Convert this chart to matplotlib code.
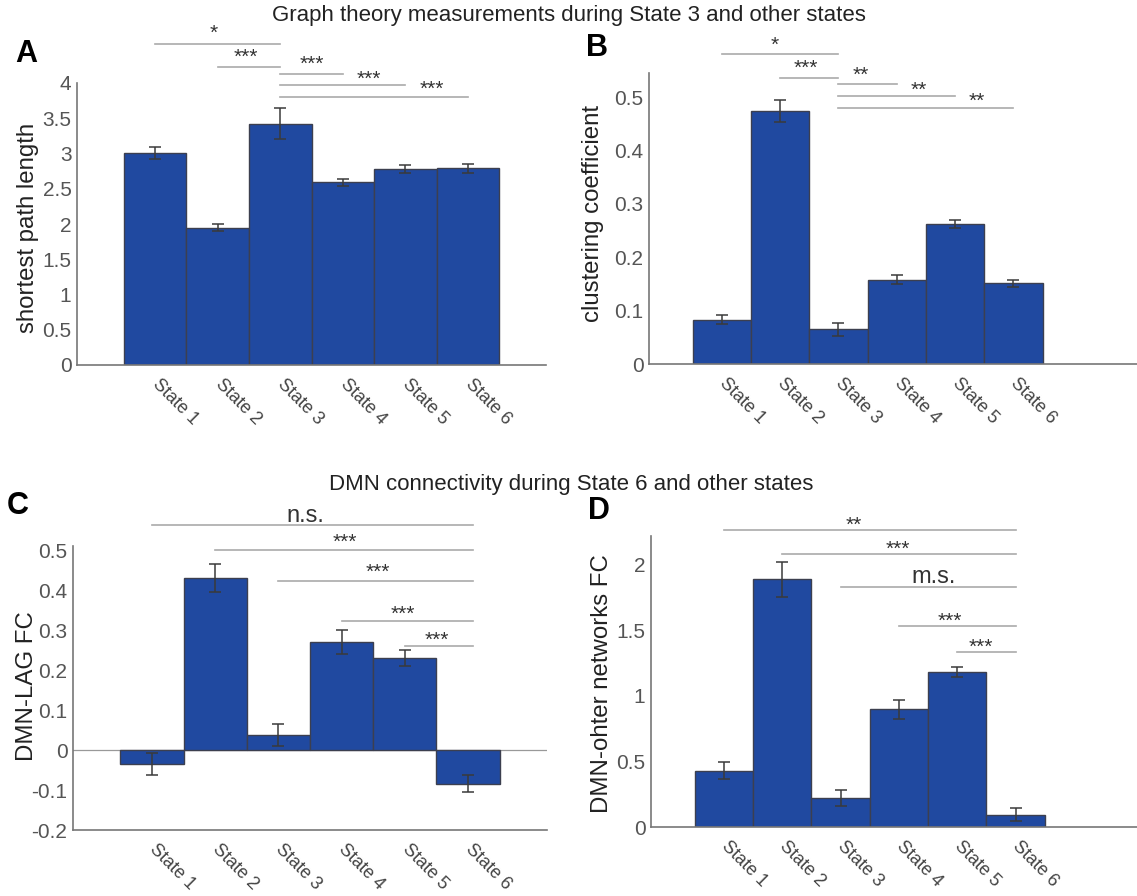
import matplotlib
matplotlib.use("Agg")
import matplotlib.pyplot as plt
import matplotlib.transforms as mtransforms
from matplotlib.ticker import FuncFormatter
import numpy as np

plt.rcParams["font.family"] = ["Liberation Sans", "DejaVu Sans"]

# Data
states = ["State 1", "State 2", "State 3", "State 4", "State 5", "State 6"]

path_len = [3.01, 1.95, 3.42, 2.59, 2.78, 2.79]
path_len_err = [0.085, 0.05, 0.22, 0.055, 0.055, 0.06]

clustering = [0.083, 0.474, 0.065, 0.158, 0.262, 0.151]
clustering_err = [0.009, 0.02, 0.012, 0.008, 0.008, 0.007]

dmn_lag = [-0.035, 0.43, 0.037, 0.27, 0.231, -0.084]
dmn_lag_err = [0.027, 0.036, 0.028, 0.03, 0.02, 0.021]

dmn_other = [0.43, 1.89, 0.222, 0.897, 1.183, 0.092]
dmn_other_err = [0.065, 0.135, 0.064, 0.07, 0.04, 0.05]

# significance brackets: (from state, to state, label, line height, text x, text y)
sig_a = [(1, 3, "*", 4.55, 1.93, 4.70),
         (2, 3, "***", 4.23, 2.45, 4.36),
         (3, 4, "***", 4.13, 3.50, 4.26),
         (3, 5, "***", 3.97, 4.41, 4.05),
         (3, 6, "***", 3.80, 5.43, 3.91)]
sig_b = [(1, 3, "*", 0.58, 1.90, 0.596),
         (2, 3, "***", 0.535, 2.44, 0.553),
         (3, 4, "**", 0.524, 3.38, 0.541),
         (3, 5, "**", 0.5025, 4.38, 0.513),
         (3, 6, "**", 0.479, 5.38, 0.492)]
sig_c = [(1, 6.08, "n.s.", 0.5625, 3.42, 0.585),
         (2, 6.08, "***", 0.50, 4.05, 0.518),
         (3, 6.08, "***", 0.4225, 4.57, 0.443),
         (4, 6.08, "***", 0.3225, 4.97, 0.339),
         (5, 6.08, "***", 0.259, 5.50, 0.274)]
sig_d = [(1, 6, "**", 2.263, 3.22, 2.30),
         (2, 6, "***", 2.08, 3.98, 2.12),
         (3, 6, "m.s.", 1.833, 4.60, 1.91),
         (4, 6, "***", 1.534, 4.87, 1.57),
         (5, 6, "***", 1.336, 5.41, 1.37)]

W, H = 1137, 896
fig = plt.figure(figsize=(W / 100, H / 100), dpi=100)


def rect(l, t, r, b):
    return [l / W, 1 - b / H, (r - l) / W, (b - t) / H]


def panel(pos, vals, errs, ylim, yticks, ylabel, label_xy, sigs, xmax, dx, zero_line=False):
    ax = fig.add_axes(pos)
    x = np.arange(1, len(vals) + 1)
    ax.bar(x, vals, width=1.0, color="#2049a0", edgecolor="#3c3f4f", linewidth=1.0, zorder=2)
    ax.errorbar(x, vals, yerr=errs, fmt="none", ecolor="#3a3a3a", elinewidth=1.1,
                capsize=4, capthick=1.1, zorder=3)
    if zero_line:
        ax.axhline(0, color="#999999", linewidth=0.9, zorder=1)
    ax.set_xlim(-0.25, xmax)
    ax.set_ylim(*ylim)
    ax.set_yticks(yticks)
    ax.yaxis.set_major_formatter(FuncFormatter(lambda v, p: "%g" % round(v, 3)))
    ax.set_xticks(x)
    ax.set_xticklabels(states, rotation=-45, ha="left", va="center", rotation_mode="anchor")
    shift = mtransforms.ScaledTranslation(dx / 100, 0, fig.dpi_scale_trans)
    for t in ax.get_xticklabels():
        t.set_transform(t.get_transform() + shift)
    ax.tick_params(axis="x", length=0, pad=12, labelsize=13, labelcolor="#444444")
    ax.tick_params(axis="y", length=0, pad=4, labelsize=15, labelcolor="#555555")
    for s in ["top", "right"]:
        ax.spines[s].set_visible(False)
    for s in ["left", "bottom"]:
        ax.spines[s].set_color("#777777")
        ax.spines[s].set_linewidth(1.2)
    fig.text(label_xy[0] / W, 1 - label_xy[1] / H, ylabel, rotation=90, ha="center",
             va="center", fontsize=17.3, color="#222222")
    for a, b, lab, h, tx, ty in sigs:
        ax.plot([a, b], [h, h], color="#aaaaaa", linewidth=1.2, clip_on=False)
        big = "." in lab
        ax.text(tx, ty, lab, ha="center", va="center", clip_on=False,
                fontsize=17 if big else 15, color="#333333")
    return ax


panel(rect(77, 83, 546, 365), path_len, path_len_err, (0, 4),
      np.arange(0, 4.01, 0.5), "shortest path length", (28, 228), sig_a, 7.25, -10)
panel(rect(649, 73, 1137, 364), clustering, clustering_err, (0, 0.545),
      np.arange(0, 0.51, 0.1), "clustering coefficient", (593, 213), sig_b, 8.12, 2)
panel(rect(73, 546, 547, 830), dmn_lag, dmn_lag_err, (-0.2, 0.51),
      np.arange(-0.2, 0.51, 0.1), "DMN-LAG FC", (27, 686), sig_c, 7.25, 0, zero_line=True)
panel(rect(651, 536, 1137, 827), dmn_other, dmn_other_err, (0, 2.22),
      np.arange(0, 2.01, 0.5), "DMN-ohter networks FC", (602, 684), sig_d, 8.08, 3)

fig.text(569 / W, 1 - 15 / H, "Graph theory measurements during State 3 and other states",
         ha="center", va="center", fontsize=16, color="#222222")
fig.text(571 / W, 1 - 484 / H, "DMN connectivity during State 6 and other states",
         ha="center", va="center", fontsize=16, color="#222222")
for lx, ly, letter in [(26, 54, "A"), (597, 48, "B"), (18, 506, "C"), (599, 511, "D")]:
    fig.text(lx / W, 1 - ly / H, letter, ha="center", va="center", fontsize=22, fontweight="bold")

fig.savefig("out.png", dpi=100)
